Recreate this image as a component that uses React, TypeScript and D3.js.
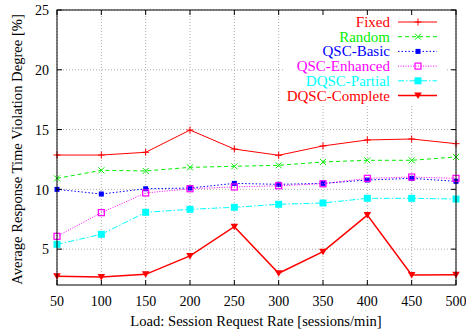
import React from "react";
import * as d3 from "d3";

const loads = [50, 100, 150, 200, 250, 300, 350, 400, 450, 500];
const fixed = [12.87, 12.87, 13.1, 14.96, 13.37, 12.85, 13.63, 14.13, 14.21, 13.82];
const random = [10.92, 11.59, 11.54, 11.84, 11.93, 12.01, 12.29, 12.43, 12.43, 12.71];
const qscBasic = [10.0, 9.61, 10.05, 10.11, 10.5, 10.42, 10.5, 10.78, 10.92, 10.67];
const qscEnhanced = [6.07, 8.05, 9.7, 10.05, 10.2, 10.3, 10.47, 10.92, 11.03, 10.92];
const dqscPartial = [5.4, 6.24, 8.08, 8.33, 8.5, 8.75, 8.86, 9.25, 9.25, 9.19];
const dqscComplete = [2.73, 2.67, 2.89, 4.43, 6.88, 2.98, 4.79, 7.85, 2.84, 2.86];
const yTicks = [5, 10, 15, 20, 25];
const seriesNames = ["Fixed", "Random", "QSC-Basic", "QSC-Enhanced", "DQSC-Partial", "DQSC-Complete"];

const seriesData = [fixed, random, qscBasic, qscEnhanced, dqscPartial, dqscComplete];
const colors = ["#ff0000", "#00ee00", "#0000ff", "#ff00ff", "#00ffff", "#ff0000"];
const dashes = [null, "4,3", "1.5,2", "1,1.5", "6,2,1.5,2", null];
const widths = [1, 1, 1, 1, 1, 1.5];
const markers = ["plus", "x", "sq", "osq", "bigsq", "tri"];

const W = 466, H = 333;
const L = 57, R = 456, T = 10, B = 285;
const ts: React.CSSProperties = { fontFamily: "Liberation Serif" };

function Marker({ type, x, y, c }: { type: string; x: number; y: number; c: string }) {
  switch (type) {
    case "plus":
      return <path d={`M${x - 3.5},${y}H${x + 3.5}M${x},${y - 3.5}V${y + 3.5}`} stroke={c} strokeWidth={1} />;
    case "x":
      return <path d={`M${x - 3},${y - 3}L${x + 3},${y + 3}M${x - 3},${y + 3}L${x + 3},${y - 3}`} stroke={c} strokeWidth={1} />;
    case "sq":
      return <rect x={x - 2.5} y={y - 2.5} width={5} height={5} fill={c} />;
    case "osq":
      return <rect x={x - 3} y={y - 3} width={6} height={6} fill="none" stroke={c} strokeWidth={1.2} />;
    case "bigsq":
      return <rect x={x - 3.5} y={y - 3.5} width={7} height={7} fill={c} />;
    case "tri":
      return <path d={`M${x - 3.8},${y - 3}L${x + 3.8},${y - 3}L${x},${y + 3.5}Z`} fill={c} />;
  }
  return null;
}

export default function App() {
  const x = d3.scaleLinear().domain([50, 500]).range([L, R]);
  const y = d3.scaleLinear().domain([2, 25]).range([B, T]);
  const line = d3.line<number>().x((_, i) => x(loads[i])).y((d) => y(d));

  const legX = 390;
  const legTop = 22;
  const legStep = 14.7;

  return (
    <svg width={W} height={H} style={{ position: "absolute", left: 0, top: 0 }}>
      <rect width={W} height={H} fill="#fff" />
      {loads.map((v) => (
        <line key={"gx" + v} x1={x(v)} x2={x(v)} y1={T} y2={B} stroke="#999" strokeWidth={0.8} strokeDasharray="1,2" />
      ))}
      {yTicks.map((v) => (
        <line key={"gy" + v} x1={L} x2={R} y1={y(v)} y2={y(v)} stroke="#999" strokeWidth={0.8} strokeDasharray="1,2" />
      ))}
      <rect x={283} y={T + 1} width={162} height={93} fill="#fff" />
      {seriesData.map((s, i) => (
        <g key={"s" + i}>
          <path d={line(s) || ""} fill="none" stroke={colors[i]} strokeWidth={widths[i]} strokeDasharray={dashes[i] || undefined} />
          {s.map((v, j) => (
            <Marker key={j} type={markers[i]} x={x(loads[j])} y={y(v)} c={colors[i]} />
          ))}
        </g>
      ))}
      <rect x={L} y={T} width={R - L} height={B - T} fill="none" stroke="#000" strokeWidth={1} />
      {loads.map((v) => (
        <g key={"tx" + v}>
          <line x1={x(v)} x2={x(v)} y1={B} y2={B - 5} stroke="#000" />
          <line x1={x(v)} x2={x(v)} y1={T} y2={T + 5} stroke="#000" />
          <text x={x(v)} y={306} fontSize={14} textAnchor="middle" fill="#000" style={ts}>{v}</text>
        </g>
      ))}
      {yTicks.map((v) => (
        <g key={"ty" + v}>
          <line x1={L} x2={L + 5} y1={y(v)} y2={y(v)} stroke="#000" />
          <line x1={R} x2={R - 5} y1={y(v)} y2={y(v)} stroke="#000" />
          <text x={49} y={y(v) + 5.3} fontSize={14} textAnchor="end" fill="#000" style={ts}>{v}</text>
        </g>
      ))}
      {seriesNames.map((n, i) => {
        const ly = legTop + i * legStep;
        return (
          <g key={"l" + i}>
            <text x={legX} y={ly + 5} fontSize={15} textAnchor="end" fill={colors[i]} style={ts}>{n}</text>
            <line x1={398} x2={437} y1={ly} y2={ly} stroke={colors[i]} strokeWidth={widths[i]} strokeDasharray={dashes[i] || undefined} />
            <Marker type={markers[i]} x={418} y={ly} c={colors[i]} />
          </g>
        );
      })}
      <text x={256} y={326} fontSize={14.6} textAnchor="middle" fill="#000" style={ts}>Load: Session Request Rate [sessions/min]</text>
      <text transform={`translate(21.5,149.5) rotate(-90)`} fontSize={14.6} textAnchor="middle" fill="#000" style={ts}>
        Average Response Time Violation Degree [%]
      </text>
    </svg>
  );
}
